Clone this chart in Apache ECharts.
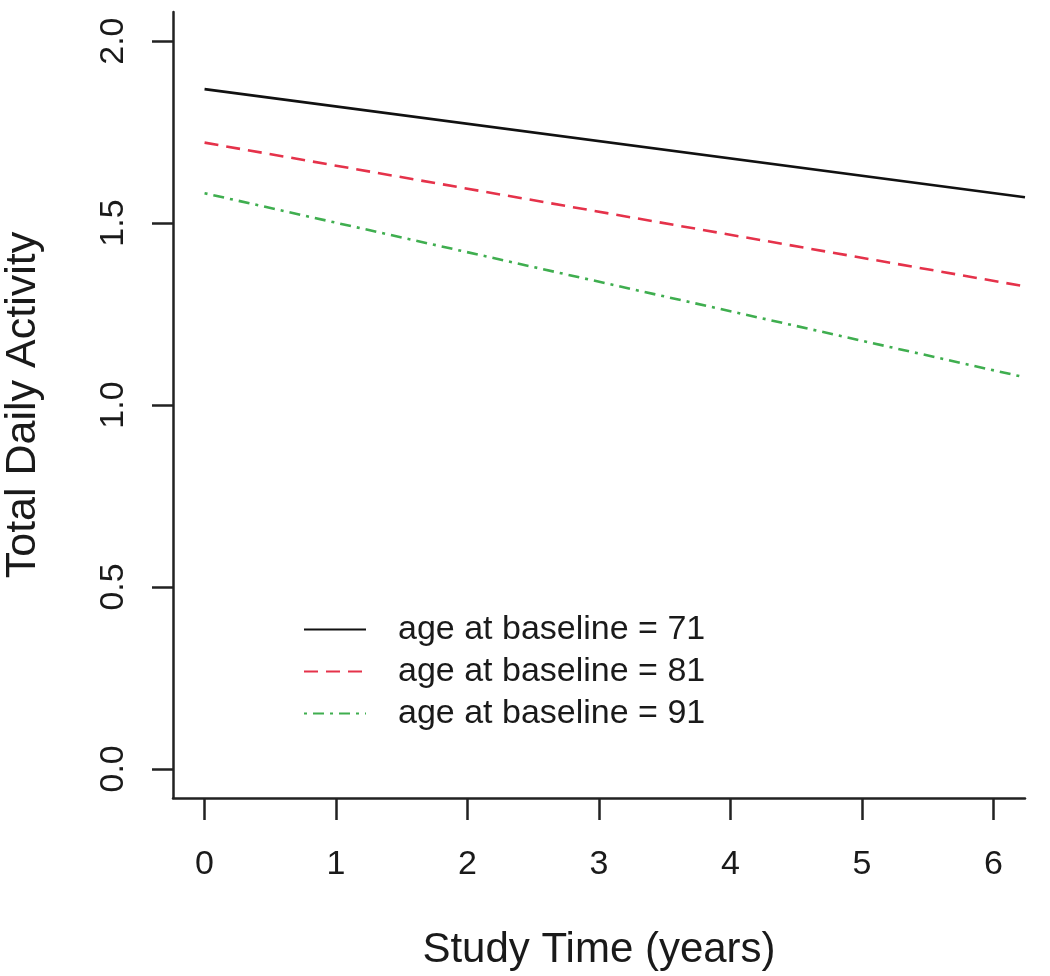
<!DOCTYPE html>
<html>
<head>
<meta charset="utf-8">
<script src="https://cdn.jsdelivr.net/npm/echarts@6/dist/echarts.min.js"></script>
<style>
html,body{margin:0;padding:0;background:#fff;}
#chart{width:1050px;height:976px;}
</style>
</head>
<body>
<div id="chart"></div>
<script>
// Study time (years) at the start and end of each fitted line
var years = [0, 6.24];
// Total daily activity for each baseline age
var age71 = [1.868, 1.571];
var age81 = [1.721, 1.326];
var age91 = [1.582, 1.076];
var seriesNames = ['age at baseline = 71', 'age at baseline = 81', 'age at baseline = 91'];
var xTicks = [0, 1, 2, 3, 4, 5, 6];
var yTicks = [0, 0.5, 1, 1.5, 2];

function pairs(xs, ys) { return xs.map(function (x, i) { return [x, ys[i]]; }); }

var FONT = '"Liberation Sans", Arial, sans-serif';
var INK = '#1a1a1a';

var chart = echarts.init(document.getElementById('chart'), null, {renderer: 'canvas'});
chart.setOption({
  backgroundColor: '#ffffff',
  animation: false,
  textStyle: {fontFamily: FONT, color: INK},
  grid: {left: 173, right: 25, top: 12, bottom: 178, containLabel: false, outerBoundsMode: 'none'},
  legend: {
    orient: 'vertical',
    left: 303,
    top: 612,
    padding: 0,
    itemWidth: 62,
    itemHeight: 14,
    itemGap: 7,
    data: seriesNames,
    itemStyle: {color: 'rgba(0,0,0,0)', borderColor: 'rgba(0,0,0,0)', borderWidth: 0, opacity: 0},
    textStyle: {fontFamily: FONT, fontSize: 34, color: INK, lineHeight: 35, padding: [0, 0, 0, 27]}
  },
  xAxis: {
    type: 'value',
    min: -0.24,
    max: 6.24,
    name: 'Study Time (years)',
    nameLocation: 'middle',
    nameGap: 131,
    nameTextStyle: {fontFamily: FONT, fontSize: 42, color: INK},
    splitLine: {show: false},
    axisLine: {show: true, onZero: false, lineStyle: {color: '#222', width: 2.5}},
    axisTick: {show: true, length: 22, customValues: xTicks, lineStyle: {color: '#222', width: 2.5}},
    axisLabel: {customValues: xTicks, margin: 50, fontSize: 34, color: INK, fontFamily: FONT}
  },
  yAxis: {
    type: 'value',
    min: -0.08,
    max: 2.08,
    name: 'Total Daily Activity',
    nameLocation: 'middle',
    nameGap: 128,
    nameTextStyle: {fontFamily: FONT, fontSize: 43, color: INK},
    splitLine: {show: false},
    axisLine: {show: true, onZero: false, lineStyle: {color: '#222', width: 2.5}},
    axisTick: {show: true, length: 21, customValues: yTicks, lineStyle: {color: '#222', width: 2.5}},
    axisLabel: {
      customValues: yTicks, rotate: 90, margin: 42, fontSize: 34, color: INK, fontFamily: FONT,
      formatter: function (v) { return v.toFixed(1); }
    }
  },
  series: [
    {name: seriesNames[0], type: 'line', data: pairs(years, age71), symbol: 'none',
     lineStyle: {color: '#111111', width: 2.6, type: 'solid'}, itemStyle: {color: '#111111'}},
    {name: seriesNames[1], type: 'line', data: pairs(years, age81), symbol: 'none',
     lineStyle: {color: '#e5324a', width: 2.6, type: [14, 8]}, itemStyle: {color: '#e5324a'}},
    {name: seriesNames[2], type: 'line', data: pairs(years, age91), symbol: 'none',
     lineStyle: {color: '#3fae4f', width: 2.6, type: [3, 6, 11, 6]}, itemStyle: {color: '#3fae4f'}}
  ]
});
</script>
</body>
</html>
